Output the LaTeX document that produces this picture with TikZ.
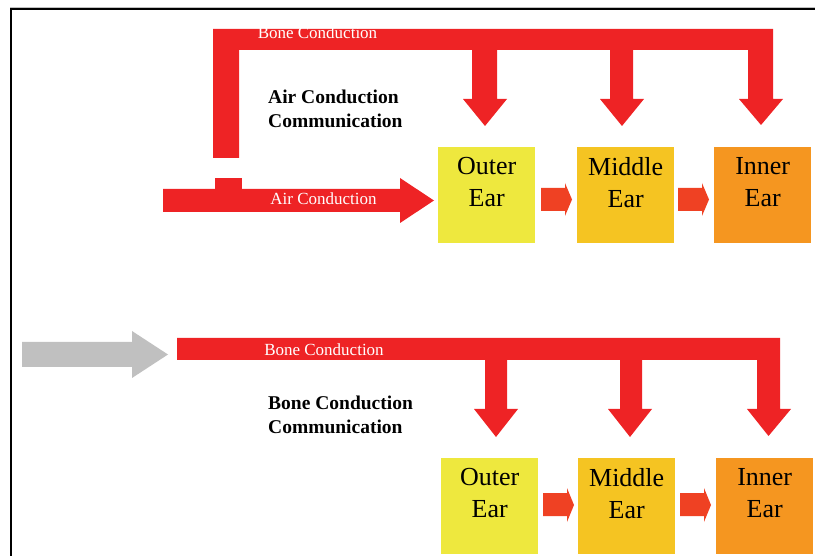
\documentclass[tikz,border=0pt]{standalone}
\usepackage{fontspec}
\setmainfont{Liberation Serif}
\definecolor{bar}{RGB}{238,35,37}
\definecolor{small}{RGB}{239,65,35}
\definecolor{outerc}{RGB}{238,232,62}
\definecolor{middlec}{RGB}{245,196,34}
\definecolor{innerc}{RGB}{245,150,32}
\definecolor{greyc}{RGB}{192,192,192}
\tikzset{
  earbox/.style={draw=none, minimum width=97pt, minimum height=96pt, anchor=north west, inner sep=0pt},
  eartext/.style={anchor=north, inner sep=0pt, align=center, font=\fontsize{26}{32}\selectfont},
  barlabel/.style={anchor=base, inner sep=0pt, text=white, font=\fontsize{17}{20}\selectfont},
  titlelabel/.style={anchor=north west, inner sep=0pt, align=left, font=\fontsize{19.5}{24}\selectfont\bfseries},
  redfill/.style={fill=bar, draw=none},
  smallfill/.style={fill=small, draw=none},
}
\begin{document}
\begin{tikzpicture}[x=1pt,y=-1pt]
\useasboundingbox (0,0) rectangle (815,556);
% frame
\draw[greyc, line width=1pt] (10,7.5) -- (815,7.5);
\draw[black, line width=2pt] (10,9.5) -- (815,9.5);
\draw[black, line width=2pt] (11,9) -- (11,556);

% ---------- top section ----------
\node[earbox, fill=outerc] (o1) at (438,147) {};
\node[earbox, fill=middlec] (m1) at (577,147) {};
\node[earbox, fill=innerc] (i1) at (714,147) {};
\node[eartext] (o1t) at ([yshift=-10pt]o1.north) {Outer\\Ear};
\node[eartext] (m1t) at ([yshift=-10pt]m1.north) {Middle\\Ear};
\node[eartext] (i1t) at ([yshift=-10pt]i1.north) {Inner\\Ear};

% bone conduction bar (top)
\fill[redfill] (213,158) -- (213,29) -- (773,29) -- (773,99) -- (783,99) -- (761,125) -- (739,99) -- (748,99)
  -- (748,50) -- (633,50) -- (633,99) -- (644,99) -- (622,126) -- (600,99) -- (610,99) -- (610,50)
  -- (497,50) -- (497,99) -- (507,99) -- (485,126) -- (463,99) -- (472,99) -- (472,50)
  -- (239,50) -- (239,158) -- cycle;
\node[barlabel] (bc1) at (317.5,39) {Bone Conduction};

% air conduction arrow
\fill[redfill] (163,189) -- (400,189) -- (400,178) -- (434,200.5) -- (400,223) -- (400,212) -- (163,212) -- cycle;
\fill[redfill] (215,178) rectangle (242,189.5);
\node[barlabel] (ac1) at (323.5,205) {Air Conduction};

% small arrows
\fill[smallfill] (541,188) -- (565,188) -- (565,183) -- (572,199.5) -- (565,216) -- (565,211) -- (541,211) -- cycle;
\fill[smallfill] (678,188) -- (702,188) -- (702,183) -- (709,199.5) -- (702,216) -- (702,211) -- (678,211) -- cycle;

\node[titlelabel] (t1) at (268,90) {Air Conduction\\Communication};

% ---------- bottom section ----------
\node[earbox, fill=outerc] (o2) at (441,458) {};
\node[earbox, fill=middlec] (m2) at (578,458) {};
\node[earbox, fill=innerc] (i2) at (716,458) {};
\node[eartext] (o2t) at ([yshift=-10pt]o2.north) {Outer\\Ear};
\node[eartext] (m2t) at ([yshift=-10pt]m2.north) {Middle\\Ear};
\node[eartext] (i2t) at ([yshift=-10pt]i2.north) {Inner\\Ear};

% grey arrow
\fill[greyc] (22,342) -- (132,342) -- (132,331) -- (168,354.5) -- (132,378) -- (132,367) -- (22,367) -- cycle;

% bone conduction bar (bottom)
\fill[redfill] (177,338) -- (780,338) -- (780,409) -- (791,409) -- (768.5,436) -- (747,409) -- (757,409)
  -- (757,360) -- (642,360) -- (642,409) -- (652,409) -- (630,437) -- (608,409) -- (620,409) -- (620,360)
  -- (507,360) -- (507,409) -- (518,409) -- (496,437) -- (474,409) -- (485,409) -- (485,360)
  -- (177,360) -- cycle;
\node[barlabel] (bc2) at (324,356) {Bone Conduction};

% small arrows
\fill[smallfill] (543,493) -- (567,493) -- (567,488) -- (574,505) -- (567,522) -- (567,516) -- (543,516) -- cycle;
\fill[smallfill] (680,493) -- (704,493) -- (704,488) -- (711,505) -- (704,522) -- (704,516) -- (680,516) -- cycle;

\node[titlelabel] (t2) at (268,396) {Bone Conduction\\Communication};
\end{tikzpicture}
\end{document}
